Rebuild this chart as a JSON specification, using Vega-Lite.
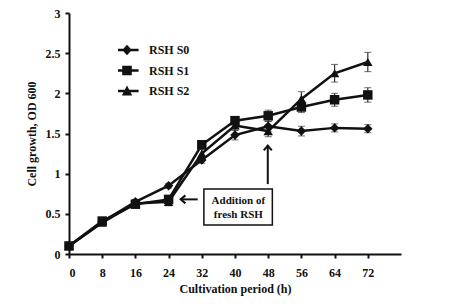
{
  "$schema": "https://vega.github.io/schema/vega-lite/v6.json",
  "width": 332,
  "height": 241,
  "autosize": "none",
  "padding": {"left": 69, "top": 13, "right": 53, "bottom": 50},
  "background": "white",
  "config": {
    "view": {"stroke": null},
    "font": "Liberation Serif",
    "axis": {
      "labelFont": "Liberation Serif", "labelFontWeight": "bold", "labelFontSize": 12, "labelColor": "#111",
      "titleFont": "Liberation Serif", "titleFontWeight": "bold", "titleFontSize": 12, "titleColor": "#111",
      "domainColor": "#111", "domainWidth": 2, "tickColor": "#111", "tickWidth": 2, "tickSize": 4, "grid": false,
      "labelOverlap": false
    }
  },
  "datasets": {
    "growth": [
      {"t": 0, "series": "RSH S0", "od": 0.10, "sd": 0.02},
      {"t": 8, "series": "RSH S0", "od": 0.40, "sd": 0.03},
      {"t": 16, "series": "RSH S0", "od": 0.65, "sd": 0.03},
      {"t": 24, "series": "RSH S0", "od": 0.85, "sd": 0.03},
      {"t": 32, "series": "RSH S0", "od": 1.17, "sd": 0.04},
      {"t": 40, "series": "RSH S0", "od": 1.48, "sd": 0.06},
      {"t": 48, "series": "RSH S0", "od": 1.59, "sd": 0.06},
      {"t": 56, "series": "RSH S0", "od": 1.53, "sd": 0.06},
      {"t": 64, "series": "RSH S0", "od": 1.57, "sd": 0.05},
      {"t": 72, "series": "RSH S0", "od": 1.56, "sd": 0.05},
      {"t": 0, "series": "RSH S1", "od": 0.10, "sd": 0.02},
      {"t": 8, "series": "RSH S1", "od": 0.41, "sd": 0.03},
      {"t": 16, "series": "RSH S1", "od": 0.62, "sd": 0.03},
      {"t": 24, "series": "RSH S1", "od": 0.68, "sd": 0.04},
      {"t": 32, "series": "RSH S1", "od": 1.36, "sd": 0.04},
      {"t": 40, "series": "RSH S1", "od": 1.66, "sd": 0.05},
      {"t": 48, "series": "RSH S1", "od": 1.72, "sd": 0.07},
      {"t": 56, "series": "RSH S1", "od": 1.83, "sd": 0.07},
      {"t": 64, "series": "RSH S1", "od": 1.92, "sd": 0.08},
      {"t": 72, "series": "RSH S1", "od": 1.98, "sd": 0.09},
      {"t": 0, "series": "RSH S2", "od": 0.10, "sd": 0.02},
      {"t": 8, "series": "RSH S2", "od": 0.39, "sd": 0.03},
      {"t": 16, "series": "RSH S2", "od": 0.63, "sd": 0.03},
      {"t": 24, "series": "RSH S2", "od": 0.65, "sd": 0.05},
      {"t": 32, "series": "RSH S2", "od": 1.25, "sd": 0.05},
      {"t": 40, "series": "RSH S2", "od": 1.60, "sd": 0.06},
      {"t": 48, "series": "RSH S2", "od": 1.53, "sd": 0.07},
      {"t": 56, "series": "RSH S2", "od": 1.93, "sd": 0.09},
      {"t": 64, "series": "RSH S2", "od": 2.25, "sd": 0.11},
      {"t": 72, "series": "RSH S2", "od": 2.39, "sd": 0.12}
    ],
    "box": [{"x1": 32.5, "x2": 49.0, "y1": 0.36, "y2": 0.81}],
    "boxtext": [
      {"x": 40.8, "y": 0.655, "label": "Addition of"},
      {"x": 40.8, "y": 0.48, "label": "fresh RSH"}
    ],
    "arrows": [
      {"dir": "left", "x1": 26.9, "x2": 31.0, "y1": 0.68, "y2": 0.68},
      {"dir": "up", "x1": 47.9, "x2": 47.9, "y1": 1.35, "y2": 0.87}
    ]
  },
  "layer": [
    {
      "data": {"name": "growth"},
      "mark": {"type": "line", "color": "#111", "strokeWidth": 2.5},
      "encoding": {
        "x": {"field": "t", "type": "quantitative", "scale": {"domain": [0, 72]},
              "axis": {"values": [0, 8, 16, 24, 32, 40, 48, 56, 64, 72], "title": "Cultivation period (h)", "labelPadding": 9, "titlePadding": 5}},
        "y": {"field": "od", "type": "quantitative", "scale": {"domain": [0, 3]},
              "axis": {"values": [0, 0.5, 1, 1.5, 2, 2.5, 3], "format": "~g", "title": "Cell growth, OD 600", "labelPadding": 5, "titlePadding": 7}},
        "detail": {"field": "series"}
      }
    },
    {
      "data": {"name": "growth"},
      "mark": {"type": "errorbar", "ticks": {"size": 7, "color": "#333", "strokeWidth": 1.2}, "rule": {"color": "#333", "strokeWidth": 1.2}},
      "encoding": {
        "x": {"field": "t", "type": "quantitative",
              "axis": {"values": [0, 8, 16, 24, 32, 40, 48, 56, 64, 72], "title": "Cultivation period (h)", "labelPadding": 9, "titlePadding": 5}},
        "y": {"field": "od", "type": "quantitative",
              "axis": {"values": [0, 0.5, 1, 1.5, 2, 2.5, 3], "format": "~g", "title": "Cell growth, OD 600", "labelPadding": 5, "titlePadding": 7}},
        "yError": {"field": "sd"},
        "detail": {"field": "series"}
      }
    },
    {
      "data": {"name": "growth"},
      "mark": {"type": "point", "filled": true, "color": "#111", "opacity": 1, "size": 90},
      "encoding": {
        "x": {"field": "t", "type": "quantitative",
              "axis": {"values": [0, 8, 16, 24, 32, 40, 48, 56, 64, 72], "title": "Cultivation period (h)", "labelPadding": 9, "titlePadding": 5}},
        "y": {"field": "od", "type": "quantitative",
              "axis": {"values": [0, 0.5, 1, 1.5, 2, 2.5, 3], "format": "~g", "title": "Cell growth, OD 600", "labelPadding": 5, "titlePadding": 7}},
        "shape": {
          "field": "series", "type": "nominal",
          "scale": {"domain": ["RSH S0", "RSH S1", "RSH S2"], "range": ["diamond", "square", "triangle-up"]},
          "legend": null
        }
      }
    },
    {
      "data": {"name": "growth"},
      "mark": {"type": "point", "filled": true, "color": "#111", "opacity": 0, "size": 1},
      "encoding": {
        "x": {"field": "t", "type": "quantitative",
              "axis": {"values": [0, 8, 16, 24, 32, 40, 48, 56, 64, 72], "title": "Cultivation period (h)", "labelPadding": 9, "titlePadding": 5}},
        "y": {"field": "od", "type": "quantitative",
              "axis": {"values": [0, 0.5, 1, 1.5, 2, 2.5, 3], "format": "~g", "title": "Cell growth, OD 600", "labelPadding": 5, "titlePadding": 7}},
        "shape": {
          "field": "series", "type": "nominal",
          "scale": {"domain": ["RSH S0", "RSH S1", "RSH S2"], "range": [
            "M-1.45,-0.16H1.45V0.16H-1.45ZM0,-0.65L0.6,0L0,0.65L-0.6,0Z",
            "M-1.45,-0.16H1.45V0.16H-1.45ZM-0.6,-0.6H0.6V0.6H-0.6Z",
            "M-1.45,-0.16H1.45V0.16H-1.45ZM0,-0.7L0.65,0.55H-0.65Z"]},
          "legend": {
            "title": null, "orient": "none", "legendX": 49, "legendY": 29, "padding": 0,
            "symbolSize": 256, "rowPadding": 4.5, "clipHeight": 16, "labelOffset": 13,
            "labelFont": "Liberation Serif", "labelFontWeight": "bold", "labelFontSize": 12, "labelColor": "#111",
            "encode": {
              "symbols": {
                "update": {
                  "fill": {"value": "#111"},
                  "stroke": {"value": "#111"},
                  "strokeWidth": {"value": 1},
                  "opacity": {"value": 1}
                }
              }
            }
          }
        }
      }
    },
    {
      "data": {"name": "box"},
      "mark": {"type": "rect", "fill": "white", "stroke": "#111", "strokeWidth": 1.5},
      "encoding": {
        "x": {"field": "x1", "type": "quantitative",
              "axis": {"values": [0, 8, 16, 24, 32, 40, 48, 56, 64, 72], "title": "Cultivation period (h)", "labelPadding": 9, "titlePadding": 5}},
        "x2": {"field": "x2"},
        "y": {"field": "y1", "type": "quantitative",
              "axis": {"values": [0, 0.5, 1, 1.5, 2, 2.5, 3], "format": "~g", "title": "Cell growth, OD 600", "labelPadding": 5, "titlePadding": 7}},
        "y2": {"field": "y2"}
      }
    },
    {
      "data": {"name": "boxtext"},
      "mark": {"type": "text", "font": "Liberation Serif", "fontWeight": "bold", "fontSize": 11, "color": "#111", "align": "center", "baseline": "middle"},
      "encoding": {
        "x": {"field": "x", "type": "quantitative",
              "axis": {"values": [0, 8, 16, 24, 32, 40, 48, 56, 64, 72], "title": "Cultivation period (h)", "labelPadding": 9, "titlePadding": 5}},
        "y": {"field": "y", "type": "quantitative",
              "axis": {"values": [0, 0.5, 1, 1.5, 2, 2.5, 3], "format": "~g", "title": "Cell growth, OD 600", "labelPadding": 5, "titlePadding": 7}},
        "text": {"field": "label"}
      }
    },
    {
      "data": {"name": "arrows"},
      "mark": {"type": "rule", "color": "#111", "strokeWidth": 2},
      "encoding": {
        "x": {"field": "x1", "type": "quantitative",
              "axis": {"values": [0, 8, 16, 24, 32, 40, 48, 56, 64, 72], "title": "Cultivation period (h)", "labelPadding": 9, "titlePadding": 5}},
        "x2": {"field": "x2"},
        "y": {"field": "y1", "type": "quantitative",
              "axis": {"values": [0, 0.5, 1, 1.5, 2, 2.5, 3], "format": "~g", "title": "Cell growth, OD 600", "labelPadding": 5, "titlePadding": 7}},
        "y2": {"field": "y2"}
      }
    },
    {
      "data": {"name": "arrows"},
      "transform": [{"filter": "datum.dir === 'left'"}],
      "mark": {"type": "point", "shape": "M1.2,-1L0,0L1.2,1", "filled": false, "stroke": "#111", "strokeWidth": 2, "size": 64, "opacity": 1},
      "encoding": {
        "x": {"field": "x1", "type": "quantitative",
              "axis": {"values": [0, 8, 16, 24, 32, 40, 48, 56, 64, 72], "title": "Cultivation period (h)", "labelPadding": 9, "titlePadding": 5}},
        "y": {"field": "y1", "type": "quantitative",
              "axis": {"values": [0, 0.5, 1, 1.5, 2, 2.5, 3], "format": "~g", "title": "Cell growth, OD 600", "labelPadding": 5, "titlePadding": 7}}
      }
    },
    {
      "data": {"name": "arrows"},
      "transform": [{"filter": "datum.dir === 'up'"}],
      "mark": {"type": "point", "shape": "M-1,1.2L0,0L1,1.2", "filled": false, "stroke": "#111", "strokeWidth": 2, "size": 64, "opacity": 1},
      "encoding": {
        "x": {"field": "x1", "type": "quantitative",
              "axis": {"values": [0, 8, 16, 24, 32, 40, 48, 56, 64, 72], "title": "Cultivation period (h)", "labelPadding": 9, "titlePadding": 5}},
        "y": {"field": "y1", "type": "quantitative",
              "axis": {"values": [0, 0.5, 1, 1.5, 2, 2.5, 3], "format": "~g", "title": "Cell growth, OD 600", "labelPadding": 5, "titlePadding": 7}}
      }
    }
  ],
  "resolve": {"scale": {"shape": "independent"}, "legend": {"shape": "independent"}}
}
